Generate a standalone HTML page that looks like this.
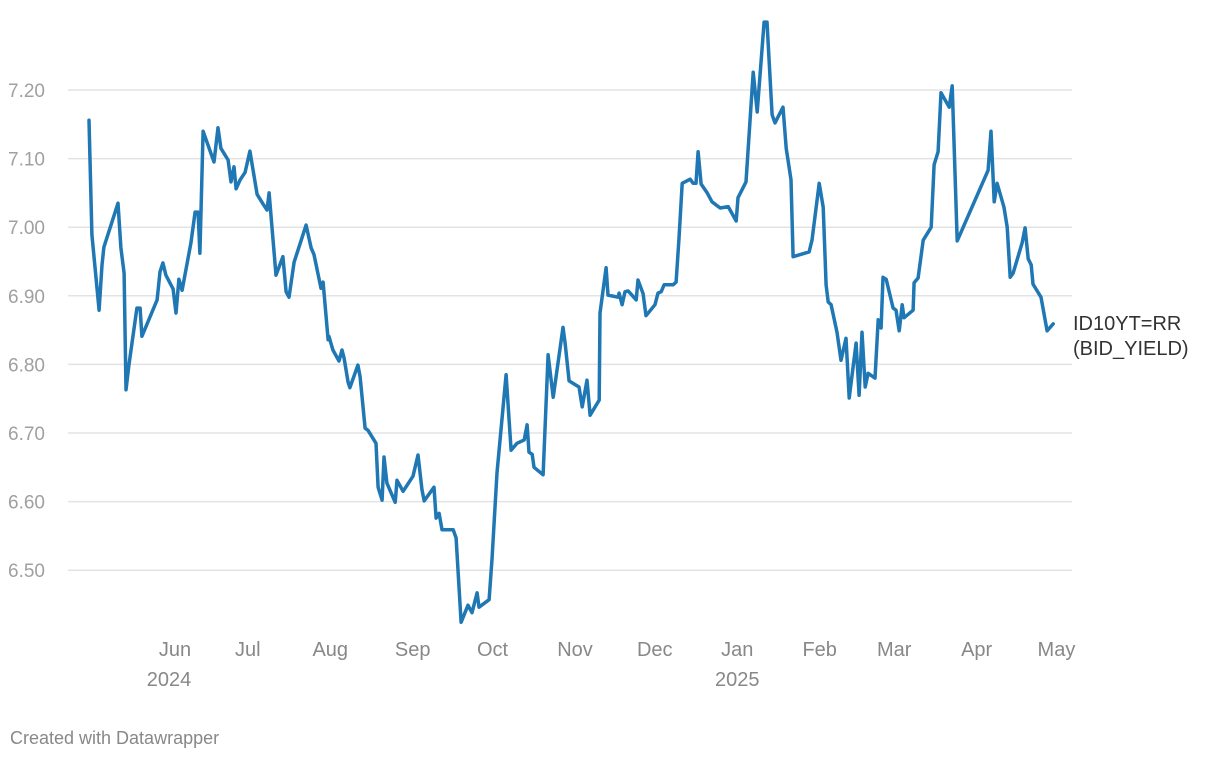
<!DOCTYPE html>
<html><head><meta charset="utf-8"><style>
body{margin:0;background:#fff;width:1220px;height:760px;overflow:hidden;font-family:"Liberation Sans",sans-serif}
svg text{font-family:"Liberation Sans",sans-serif}
</style></head><body>
<svg id="chart" width="1220" height="760" xmlns="http://www.w3.org/2000/svg">
<g id="grid"></g>
<g id="yaxis"></g>
<g id="xaxis"></g>
<path id="line" fill="none" stroke="#1f77b4" stroke-width="3.5" stroke-linejoin="round" stroke-linecap="round"/>
<text x="1073" y="330" font-size="20" fill="#333">ID10YT=RR</text>
<text x="1073" y="355" font-size="20" fill="#333">(BID_YIELD)</text>
<text x="10" y="744" font-size="18" fill="#888">Created with Datawrapper</text>
</svg>
<script>
// days since 2024-06-01
const days=[-29.7,-28.6,-25.9,-24.8,-24.1,-18.8,-17.7,-16.5,-15.8,-14.7,-11.7,-10.5,-9.8,-4.1,-3.0,-1.9,-0.8,1.9,3.0,4.1,5.3,8.6,10.2,11.3,12.0,13.2,17.3,18.8,19.9,22.6,23.7,24.8,25.6,27.1,29.0,30.8,33.5,35.7,37.2,38.0,40.6,43.2,44.4,45.5,47.4,51.9,53.8,54.9,57.5,58.3,60.2,60.5,62.0,64.3,65.4,66.2,67.7,68.4,71.4,72.2,74.1,75.2,78.2,79.0,80.5,81.2,82.3,85.4,86.1,88.4,92.1,94.0,95.5,96.3,100.0,100.8,101.9,103.0,107.2,108.3,110.2,112.8,114.3,116.2,116.9,120.7,121.8,123.7,127.1,129.0,131.2,133.9,135.0,135.7,136.9,137.6,141.0,142.9,144.8,148.5,149.3,150.8,154.5,155.7,157.5,158.7,162.1,162.4,164.7,165.4,169.2,169.6,170.7,171.8,173.0,176.0,176.7,178.6,179.7,183.1,184.2,185.4,186.5,189.9,191.0,192.1,193.3,196.3,197.4,198.5,199.3,200.4,202.7,204.5,207.6,210.6,213.6,214.3,217.3,220.0,221.5,224.1,225.2,227.1,228.2,231.2,232.4,233.1,234.2,235.0,241.0,242.1,244.8,246.3,247.4,248.2,249.3,251.5,253.0,254.9,256.1,258.7,259.8,260.9,262.1,263.2,265.8,267.0,268.1,268.8,270.0,272.6,273.7,274.9,276.0,276.7,280.1,280.5,282.0,283.9,286.9,288.0,289.5,290.6,293.7,294.8,296.7,308.3,309.4,310.6,311.7,314.3,315.5,316.6,317.7,321.1,322.2,323.4,324.5,325.2,328.2,330.5,332.8];
const values=[7.156,6.989,6.879,6.945,6.971,7.035,6.970,6.933,6.763,6.799,6.882,6.882,6.841,6.894,6.935,6.948,6.930,6.910,6.875,6.924,6.908,6.977,7.022,7.022,6.962,7.140,7.095,7.145,7.115,7.098,7.066,7.088,7.056,7.069,7.080,7.111,7.048,7.034,7.025,7.050,6.930,6.957,6.906,6.898,6.949,7.003,6.970,6.960,6.911,6.920,6.836,6.841,6.821,6.805,6.821,6.809,6.774,6.766,6.799,6.782,6.707,6.704,6.685,6.621,6.602,6.665,6.627,6.599,6.631,6.615,6.637,6.668,6.617,6.601,6.621,6.576,6.583,6.559,6.559,6.547,6.424,6.449,6.438,6.467,6.446,6.457,6.516,6.642,6.785,6.675,6.685,6.690,6.712,6.672,6.669,6.650,6.639,6.814,6.752,6.854,6.831,6.776,6.767,6.738,6.777,6.726,6.748,6.875,6.941,6.901,6.898,6.904,6.887,6.906,6.907,6.894,6.923,6.903,6.871,6.887,6.904,6.906,6.916,6.916,6.920,6.984,7.064,7.070,7.064,7.064,7.110,7.063,7.050,7.037,7.028,7.030,7.009,7.043,7.066,7.226,7.168,7.299,7.299,7.164,7.152,7.175,7.115,7.098,7.069,6.957,6.964,6.981,7.064,7.029,6.916,6.891,6.887,6.847,6.806,6.838,6.751,6.831,6.755,6.847,6.767,6.787,6.780,6.865,6.853,6.927,6.924,6.882,6.879,6.849,6.887,6.868,6.879,6.919,6.926,6.981,7.000,7.091,7.110,7.196,7.175,7.206,6.980,7.083,7.140,7.037,7.064,7.029,7.000,6.927,6.933,6.977,6.999,6.954,6.945,6.917,6.898,6.849,6.859];
const yTicks=[7.20,7.10,7.00,6.90,6.80,6.70,6.60,6.50];
const monthLabels=["Jun","Jul","Aug","Sep","Oct","Nov","Dec","Jan","Feb","Mar","Apr","May"];
const monthDays=[0,30,61,92,122,153,183,214,245,273,304,334];
const yearLabels=["2024","2025"];
const yearDays=[0,214];

const NS="http://www.w3.org/2000/svg";
const xs=d=>168+d*2.66;
const ys=v=>90+(7.20-v)*686;
function mk(tag,attrs,parent,txt){const e=document.createElementNS(NS,tag);for(const k in attrs)e.setAttribute(k,attrs[k]);if(txt!==undefined)e.textContent=txt;parent.appendChild(e);return e;}
const grid=document.getElementById('grid'),ya=document.getElementById('yaxis'),xa=document.getElementById('xaxis');
yTicks.forEach(t=>{
  const l=mk('line',{x1:68,x2:1072,y1:ys(t),y2:ys(t),stroke:'#e3e3e3','stroke-width':1.5},grid);
  
  
  const tx=mk('text',{x:8,y:ys(t)+7,'font-size':19,fill:'#a0a0a0'},ya,t.toFixed(2));
  
  
});
monthLabels.forEach((m,i)=>{
  let x=xs(monthDays[i]);
  if(i===0) x+=7;
  const tx=mk('text',{x:x,y:656,'font-size':20,fill:'#888','text-anchor':'middle'},xa,m);
  
  
});
yearLabels.forEach((y,i)=>{
  let x=xs(yearDays[i]);
  if(i===0) x+=1;
  const tx=mk('text',{x:x,y:686,'font-size':20,fill:'#888','text-anchor':'middle'},xa,y);
  
  
});
document.getElementById('line').setAttribute('d',days.map((d,i)=>(i?'L':'M')+xs(d).toFixed(1)+','+ys(values[i]).toFixed(1)).join(''));
</script>
</body></html>
